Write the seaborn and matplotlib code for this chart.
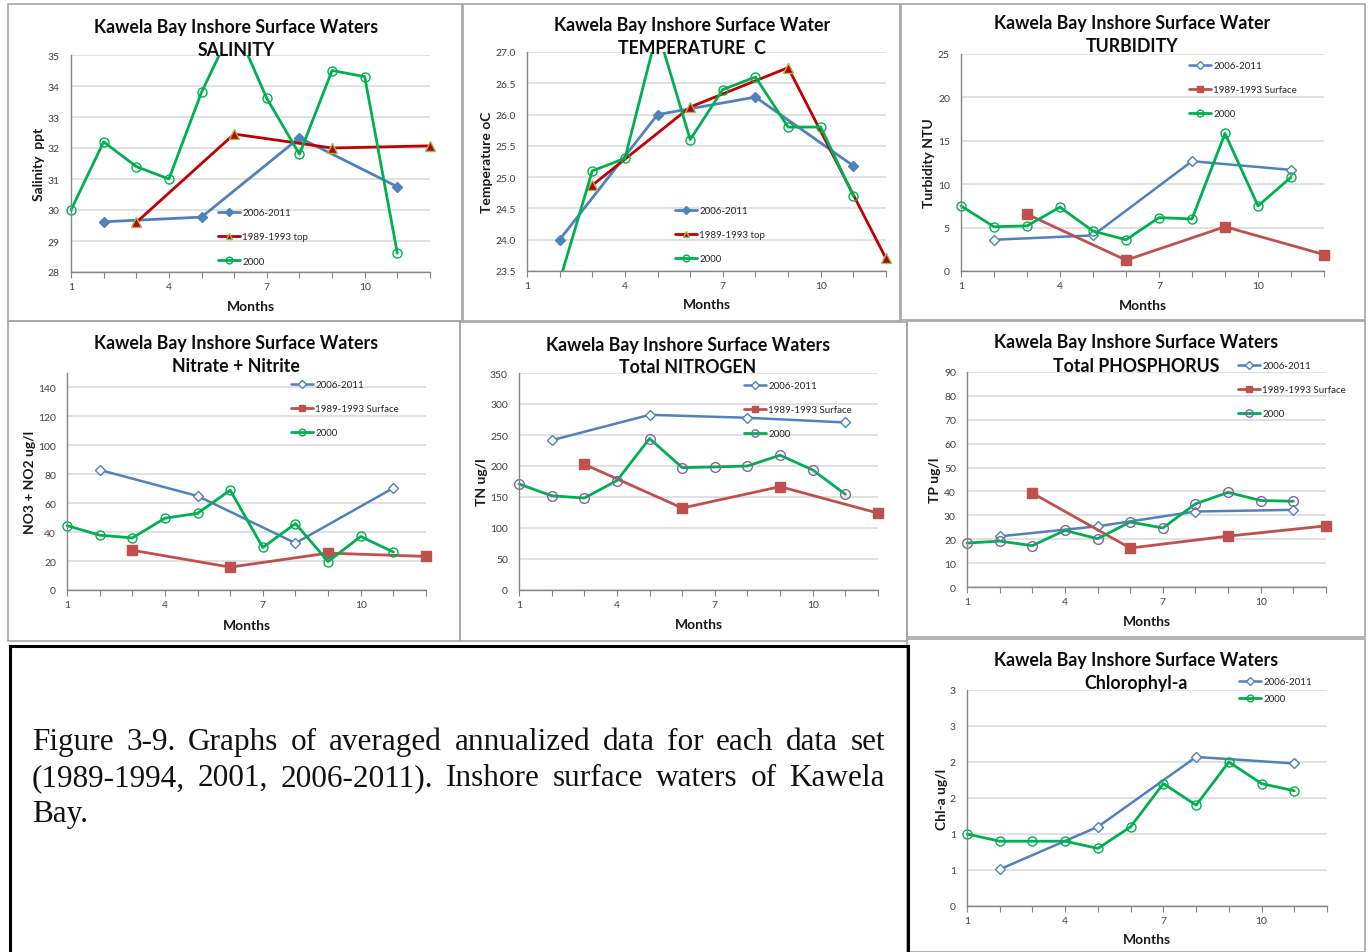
import numpy as np
import matplotlib
matplotlib.use("Agg")
import matplotlib.pyplot as plt
import seaborn as sns
from matplotlib.patches import Rectangle
from matplotlib.transforms import Bbox, TransformedBbox
from matplotlib.ticker import FixedLocator, MultipleLocator, FormatStrFormatter, FixedFormatter

# ---------------------------------------------------------------- data
months_0611 = [2, 5, 8, 11]          # 2006-2011 survey months
months_8993 = [3, 6, 9, 12]          # 1989-1993 survey months
months_2000 = list(range(1, 12))     # 2000 survey months

sal_0611 = [29.62, 29.77, 32.33, 30.75]
sal_8993 = [29.6, 32.45, 32.0, 32.07]
sal_2000 = [30.0, 32.2, 31.4, 31.0, 33.8, 36.0, 33.6, 31.8, 34.5, 34.3, 28.6]

temp_0611 = [24.0, 26.0, 26.28, 25.18]
temp_8993 = [24.87, 26.12, 26.75, 23.7]
temp_2000 = [23.0, 23.34, 25.1, 25.3, 27.35, 25.6, 26.4, 26.6, 25.8, 25.8, 24.7]

turb_0611 = [3.6, 4.1, 12.65, 11.65]
turb_8993 = [6.55, 1.25, 5.1, 1.9]
turb_2000 = [7.5, 5.1, 5.2, 7.35, 4.6, 3.6, 6.15, 6.0, 15.85, 7.5, 10.8]

no3_0611 = [83.0, 65.0, 32.4, 70.5]
no3_8993 = [27.5, 15.8, 25.5, 23.2]
no3_2000 = [44.5, 37.9, 36.0, 49.6, 53.0, 69.0, 29.4, 45.9, 19.7, 37.0, 26.2]

tn_0611 = [241.5, 282.5, 277.8, 270.2]
tn_8993 = [202.8, 132.2, 166.7, 124.0]
tn_2000 = [171.0, 152.0, 148.3, 176.4, 244.3, 197.4, 198.5, 200.0, 217.4, 193.6, 154.3]

tp_0611 = [21.2, 25.4, 31.6, 32.3]
tp_8993 = [39.3, 16.3, 21.3, 25.6]
tp_2000 = [18.4, 19.2, 17.3, 23.7, 20.2, 27.2, 24.7, 34.8, 39.6, 36.2, 35.9]

chl_0611 = [0.51, 1.10, 2.07, 1.98]
chl_2000 = [1.0, 0.9, 0.9, 0.9, 0.8, 1.1, 1.7, 1.4, 2.0, 1.7, 1.6]

label_0611 = "2006-2011"
label_top = "1989-1993 top"
label_surf = "1989-1993 Surface"
label_2000 = "2000"

chl_tick_values = [0, 0.5, 1.0, 1.5, 2.0, 2.5, 3.0]
chl_tick_labels = ["0", "1", "1", "2", "2", "3", "3"]

caption_lines = [
    "Figure 3-9. Graphs of averaged annualized data for each data set",
    "(1989-1994, 2001, 2006-2011). Inshore surface waters of Kawela",
    "Bay.",
]

# ---------------------------------------------------------------- style
sns.set_theme(style="white")
plt.rcParams["font.family"] = ["Lato", "DejaVu Sans"]

BLUE = "#4f81bd"
DARK_RED = "#c00000"
RED = "#c0504d"
GREEN = "#00b050"
PURPLE = "#8064a2"
OLIVE = "#9bbb59"
GRID = "#d9d9d9"
AXIS = "#868686"
TICK_TXT = "#404040"

W, H = 1370, 953
fig = plt.figure(figsize=(W / 100, H / 100), dpi=100)
fig.patch.set_facecolor("white")


def fx(x):
    return x / W


def fy(y):
    return 1 - y / H


def frame(x0, y0, x1, y1, color="#a6a6a6", lw=1.2):
    fig.patches.append(Rectangle((fx(x0), fy(y1)), (x1 - x0) / W, (y1 - y0) / H,
                                 transform=fig.transFigure, fill=False,
                                 edgecolor=color, linewidth=lw, zorder=0))


def make_axes(box, ylim, ystep, ylabel, ylabel_x, months_y, yticks=None):
    left, top, right, bottom = box
    ax = fig.add_axes([fx(left), fy(bottom), (right - left) / W, (bottom - top) / H])
    ax.set_facecolor("none")
    ax.set_xlim(1, 12)
    ax.set_ylim(*ylim)
    ax.xaxis.set_major_locator(FixedLocator([1, 4, 7, 10]))
    ax.xaxis.set_minor_locator(MultipleLocator(1))
    if yticks is None:
        ax.yaxis.set_major_locator(MultipleLocator(ystep))
    else:
        ax.yaxis.set_major_locator(FixedLocator(yticks))
    ax.grid(True, axis="y", color=GRID, linewidth=1.1)
    ax.grid(False, axis="x")
    ax.set_axisbelow(True)
    for s in ("top", "right"):
        ax.spines[s].set_visible(False)
    for s in ("left", "bottom"):
        ax.spines[s].set_color(AXIS)
        ax.spines[s].set_linewidth(1.0)
    ax.tick_params(axis="x", which="both", direction="out", length=4, width=0.8,
                   color=AXIS, labelsize=7.5, labelcolor=TICK_TXT, pad=3, bottom=True)
    ax.tick_params(axis="y", which="both", length=0, labelsize=7.5,
                   labelcolor=TICK_TXT, pad=8)
    ax.set_xlabel("Months", fontsize=10, fontweight="bold", color="#1a1a1a")
    ax.set_ylabel(ylabel, fontsize=10, fontweight="bold", color="#1a1a1a")
    w = right - left
    h = bottom - top
    # label anchors: right edge of the rotated y label, top of the x label
    ax.yaxis.set_label_coords((ylabel_x + 7 - left) / w, 0.5)
    ax.xaxis.set_label_coords(0.5, -(months_y - 5 - bottom) / h)
    return ax


def series(ax, x, y, color, marker, ms, mfc, mec, label, lw=2.0, mew=1.0):
    sns.lineplot(x=x, y=y, ax=ax, color=color, linewidth=lw, marker=marker,
                 markersize=ms, markerfacecolor=mfc, markeredgecolor=mec,
                 markeredgewidth=mew, label=label, estimator=None, sort=False)


def finish(ax, legend_xy, spacing):
    # clip only vertically so edge markers stay whole
    box = TransformedBbox(Bbox([[-0.05, 0.0], [1.05, 1.0]]), ax.transAxes)
    for ln in ax.lines:
        ln.set_clip_box(box)
    handles, labels = ax.get_legend_handles_labels()
    fs_px = 7 * 100 / 72
    x0, yc = legend_xy
    leg = ax.legend(handles, labels, loc="upper left",
                    bbox_to_anchor=(fx(x0), fy(yc - fs_px * 0.4)),
                    bbox_transform=fig.transFigure, frameon=False, fontsize=7,
                    handlelength=2.3, handletextpad=0.2, borderpad=0,
                    borderaxespad=0, numpoints=1, markerscale=0.75,
                    labelspacing=(spacing - fs_px * 0.95) / fs_px)
    for t in leg.get_texts():
        t.set_color("#262626")


def title(cx, y1, y2, line1, line2):
    fig.text(fx(cx), fy(y1), line1, ha="center", va="center", fontsize=12.8,
             fontweight="bold", color="#0d0d0d")
    fig.text(fx(cx), fy(y2), line2, ha="center", va="center", fontsize=12.8,
             fontweight="bold", color="#0d0d0d")


# ---------------------------------------------------------------- panel frames
frame(8, 5, 462, 322)
frame(463, 5, 900, 322)
frame(901, 5, 1365, 321)
frame(8, 322, 460, 642)
frame(460, 323, 907, 642)
frame(907, 322, 1365, 638)
frame(907, 640, 1365, 953)

# ---------------------------------------------------------------- salinity
ax = make_axes((71, 56, 430, 273), (28, 35), 1, "Salinity  ppt", 38, 306)
series(ax, months_0611, sal_0611, BLUE, "D", 5.5, BLUE, BLUE, label_0611, lw=2.0)
series(ax, months_8993, sal_8993, DARK_RED, "^", 6.5, DARK_RED, OLIVE, label_top, lw=2.0)
series(ax, months_2000, sal_2000, GREEN, "o", 6.5, "none", GREEN, label_2000, lw=2.0)
finish(ax, (218, 213), 24.5)
title(236, 28, 50, "Kawela Bay Inshore Surface Waters", "SALINITY")

# ---------------------------------------------------------------- temperature
ax = make_axes((527, 53, 886, 272), (23.5, 27.0), 0.5, "Temperature oC", 486, 304)
ax.yaxis.set_major_formatter(FormatStrFormatter("%.1f"))
series(ax, months_0611, temp_0611, BLUE, "D", 5.5, BLUE, BLUE, label_0611, lw=2.0)
series(ax, months_8993, temp_8993, DARK_RED, "^", 6.5, DARK_RED, OLIVE, label_top, lw=2.0)
series(ax, months_2000, temp_2000, GREEN, "o", 6.5, "none", GREEN, label_2000, lw=2.0)
finish(ax, (675, 211), 24.3)
title(692, 26, 48, "Kawela Bay Inshore Surface Water", "TEMPERATURE  C")

# ---------------------------------------------------------------- turbidity
ax = make_axes((961, 55, 1324, 272), (0, 25), 5, "Turbidity NTU", 928, 305)
series(ax, months_0611, turb_0611, BLUE, "D", 5.5, "white", BLUE, label_0611, lw=1.8)
series(ax, months_8993, turb_8993, RED, "s", 6.5, RED, RED, label_surf, lw=2.0)
series(ax, months_2000, turb_2000, GREEN, "o", 6.5, "none", GREEN, label_2000, lw=2.0)
finish(ax, (1189, 66), 24.3)
title(1132, 24, 47, "Kawela Bay Inshore Surface Water", "TURBIDITY")

# ---------------------------------------------------------------- nitrate + nitrite
ax = make_axes((67, 374, 426, 591), (0, 150), 20, "NO3 + NO2 ug/l", 29, 625,
               yticks=list(range(0, 141, 20)))
series(ax, months_0611, no3_0611, BLUE, "D", 5.5, "white", BLUE, label_0611, lw=1.8)
series(ax, months_8993, no3_8993, RED, "s", 6.5, RED, RED, label_surf, lw=2.0)
series(ax, months_2000, no3_2000, GREEN, "o", 6.5, "none", GREEN, label_2000, lw=2.0)
finish(ax, (291, 385), 24.3)
title(236, 344, 367, "Kawela Bay Inshore Surface Waters", "Nitrate + Nitrite")

# ---------------------------------------------------------------- total nitrogen
ax = make_axes((519, 374, 878, 591), (0, 350), 50, "TN ug/l", 481, 624)
series(ax, months_0611, tn_0611, BLUE, "D", 5.5, "white", BLUE, label_0611, lw=1.8)
series(ax, months_8993, tn_8993, RED, "s", 6.5, RED, RED, label_surf, lw=2.0)
series(ax, months_2000, tn_2000, GREEN, "o", 7, "none", PURPLE, label_2000, lw=2.0)
finish(ax, (744, 386), 24.3)
title(688, 345, 368, "Kawela Bay Inshore Surface Waters", "Total NITROGEN")

# ---------------------------------------------------------------- total phosphorus
ax = make_axes((967, 373, 1326, 588), (0, 90), 10, "TP ug/l", 934, 621)
series(ax, months_0611, tp_0611, BLUE, "D", 5.5, "white", BLUE, label_0611, lw=1.8)
series(ax, months_8993, tp_8993, RED, "s", 6.5, RED, RED, label_surf, lw=2.0)
series(ax, months_2000, tp_2000, GREEN, "o", 7, "none", PURPLE, label_2000, lw=2.0)
finish(ax, (1238, 366), 24.3)
title(1136, 343, 366, "Kawela Bay Inshore Surface Waters", "Total PHOSPHORUS")

# ---------------------------------------------------------------- chlorophyll-a
ax = make_axes((967, 691, 1327, 907), (0, 3.0), 0.5, "Chl-a ug/l", 941, 939,
               yticks=chl_tick_values)
ax.yaxis.set_major_formatter(FixedFormatter(chl_tick_labels))
series(ax, months_0611, chl_0611, BLUE, "D", 5.5, "white", BLUE, label_0611, lw=1.8)
series(ax, months_2000, chl_2000, GREEN, "o", 6.5, "none", GREEN, label_2000, lw=2.0)
finish(ax, (1239, 682), 17.5)
title(1136, 661, 684, "Kawela Bay Inshore Surface Waters", "Chlorophyl-a")

# ---------------------------------------------------------------- caption box
fig.patches.append(Rectangle((fx(10), fy(960)), (908 - 10) / W, (960 - 647) / H,
                             transform=fig.transFigure, fill=False,
                             edgecolor="black", linewidth=2.2, zorder=5,
                             clip_on=False))

renderer = fig.canvas.get_renderer()
cap_left, cap_right = 32, 885
baselines = [750, 786, 822]
cap_font = dict(family=["Liberation Serif", "DejaVu Serif"], fontsize=22.5,
                color="#111111")
for i, (line, base) in enumerate(zip(caption_lines, baselines)):
    words = line.split(" ")
    texts = [fig.text(0, fy(base), w, ha="left", va="baseline", **cap_font)
             for w in words]
    widths = [t.get_window_extent(renderer).width for t in texts]
    if i < len(caption_lines) - 1 and len(words) > 1:
        gap = (cap_right - cap_left - sum(widths)) / (len(words) - 1)
    else:
        gap = 0.27 * cap_font["fontsize"] * 100 / 72
    x = cap_left
    for t, w in zip(texts, widths):
        t.set_x(fx(x))
        x += w + gap

fig.savefig("out.png", dpi=100, facecolor="white")
